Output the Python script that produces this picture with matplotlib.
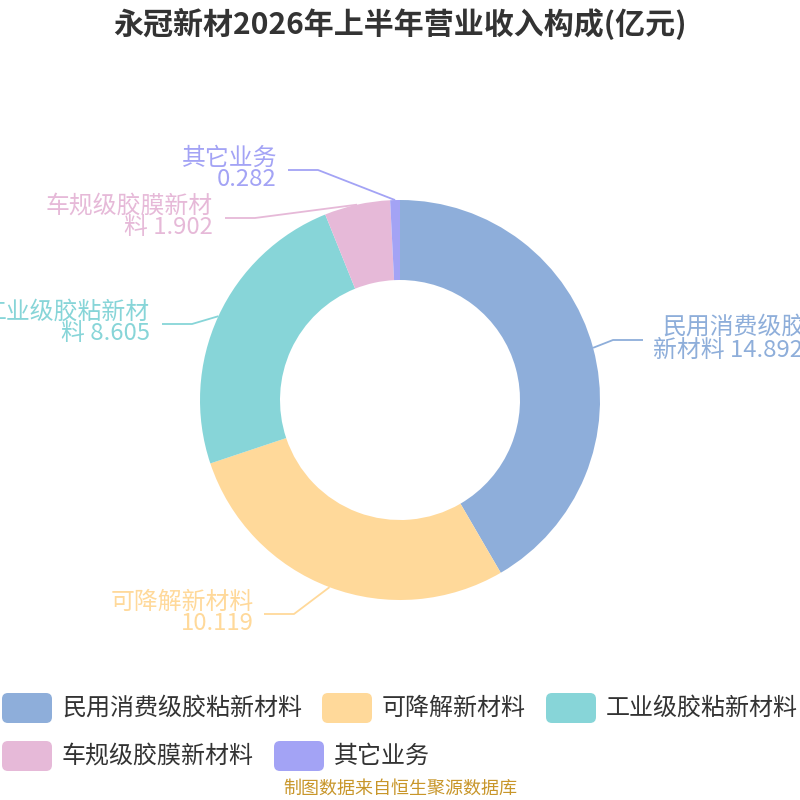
import matplotlib
matplotlib.use("Agg")
import matplotlib.pyplot as plt
from matplotlib.patches import FancyBboxPatch
import numpy as np

plt.rcParams['font.family'] = ['Noto Sans CJK SC', 'DejaVu Sans']

# ---- data ----
title = "永冠新材2026年上半年营业收入构成(亿元)"
categories = ["民用消费级胶粘新材料", "可降解新材料", "工业级胶粘新材料", "车规级胶膜新材料", "其它业务"]
values = [14.892, 10.119, 8.605, 1.902, 0.282]
colors = ["#8EAEDA", "#FFD99A", "#87D5D8", "#E6B9D8", "#A3A3F5"]
source = "制图数据来自恒生聚源数据库"

W = H = 800
fig = plt.figure(figsize=(8, 8), dpi=100)
ax = fig.add_axes([0, 0, 1, 1])
ax.set_xlim(0, W)
ax.set_ylim(0, H)
ax.set_aspect('equal')
ax.axis('off')

def Y(py):
    return H - py

cx, cy, R, ring = 400, Y(400), 200, 80
wedges, _ = ax.pie(values, colors=colors, startangle=90, counterclock=False,
                   radius=R, center=(cx, cy),
                   wedgeprops=dict(width=ring, linewidth=0, edgecolor='none'))
ax.set_xlim(0, W)
ax.set_ylim(0, H)

# label layout (elbow positions in pixels, side)
elbows = [(613, 340), (294, 614), (192, 324), (255, 218), (318, 170)]
sides = [1, -1, -1, -1, -1]
lab_fs = 17.2

for i, w in enumerate(wedges):
    ang = np.deg2rad((w.theta1 + w.theta2) / 2)
    sx, sy = cx + R * np.cos(ang), cy + R * np.sin(ang)
    ex, ey = elbows[i][0], Y(elbows[i][1])
    hx = ex + 30 * sides[i]
    ax.plot([sx, ex, hx], [sy, ey, ey], color=colors[i], lw=1.3,
            solid_capstyle='butt', clip_on=False)

val = values
# 民用 (right side, split lines)
ax.text(662, Y(327), "民用消费级胶粘", ha='left', va='center', fontsize=lab_fs, color=colors[0])
ax.text(653, Y(350), f"新材料 {val[0]:.3f}", ha='left', va='center', fontsize=lab_fs, color=colors[0])
left_texts = [
    (1, "可降解新材料", f"{val[1]:.3f}", 254),
    (2, "工业级胶粘新材", f"料 {val[2]:.3f}", 150),
    (3, "车规级胶膜新材", f"料 {val[3]:.3f}", 213),
    (4, "其它业务", f"{val[4]:.3f}", 277),
]
for i, l1, l2, xr in left_texts:
    ey = elbows[i][1]
    ax.text(xr, Y(ey - 12), l1, ha='right', va='center', fontsize=lab_fs, color=colors[i])
    ax.text(xr, Y(ey + 10), l2, ha='right', va='center', fontsize=lab_fs, color=colors[i])

# title
ax.text(400, Y(24), title, ha='center', va='center', fontsize=21.6, fontweight='bold', color='#333333')

# legend
leg_items = [(0, 2, 708), (1, 322, 708), (2, 546, 708), (3, 2, 756), (4, 274, 756)]
for i, lx, ly in leg_items:
    box = FancyBboxPatch((lx + 4, Y(ly) - 11), 42, 22,
                         boxstyle="round,pad=4,rounding_size=6",
                         facecolor=colors[i], edgecolor='none')
    ax.add_patch(box)
    ax.text(lx + 60, Y(ly), categories[i], ha='left', va='center', fontsize=17.3, color='#333333')

ax.text(400, Y(789), source, ha='center', va='center', fontsize=13, color='#C8962A')

fig.savefig("out.png", dpi=100)
